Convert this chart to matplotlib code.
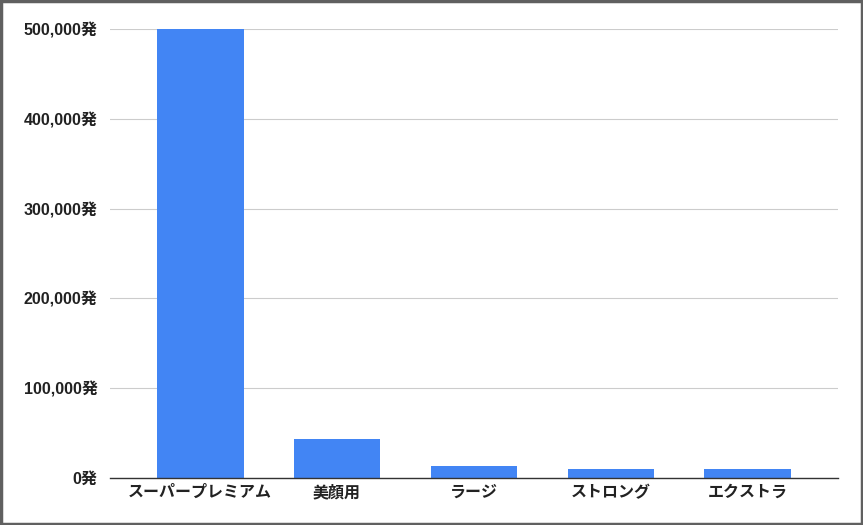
import matplotlib.pyplot as plt
from matplotlib.patches import Rectangle
from matplotlib.ticker import FuncFormatter

plt.rcParams['font.family'] = ['Liberation Sans', 'Noto Sans CJK JP', 'DejaVu Sans']

# data
categories = ['スーパープレミアム', '美顔用', 'ラージ', 'ストロング', 'エクストラ']
values = [500000, 43000, 13000, 10000, 10000]
y_ticks = [0, 100000, 200000, 300000, 400000, 500000]

fig = plt.figure(figsize=(8.63, 5.25), dpi=100)
ax = fig.add_axes([110/863, 47/525, 728/863, 449/525])

ax.bar(range(len(categories)), values, width=0.635, color='#4285F4', zorder=3)

ax.set_xlim(-0.657, 4.657)
ax.set_ylim(0, 500000)
ax.set_yticks(y_ticks)
ax.yaxis.set_major_formatter(FuncFormatter(lambda v, p: f'{int(v):,}発'))
ax.set_xticks(range(len(categories)))
ax.set_xticklabels(categories)

ax.grid(axis='y', color='#cccccc', linewidth=0.8, zorder=0)
for s in ['top', 'right', 'left']:
    ax.spines[s].set_visible(False)
ax.spines['bottom'].set_color('#333333')
ax.spines['bottom'].set_linewidth(1.0)
ax.spines['bottom'].set_zorder(4)
ax.tick_params(axis='both', length=0, labelsize=11.5, colors='#222222')
ax.tick_params(axis='y', pad=9)
ax.tick_params(axis='x', pad=5)
for lbl in ax.get_xticklabels() + ax.get_yticklabels():
    lbl.set_fontweight('bold')

# outer frame
fig.patches.append(Rectangle((0.0015, 0.0025), 0.997, 0.995, transform=fig.transFigure,
                             fill=False, edgecolor='#606060', linewidth=2.5))

fig.savefig('out.png', dpi=100)
